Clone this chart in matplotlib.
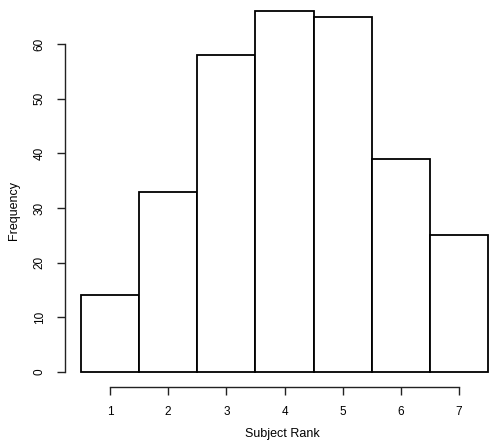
import matplotlib
matplotlib.use("Agg")
import matplotlib.pyplot as plt

# histogram counts
ranks = [1, 2, 3, 4, 5, 6, 7]
counts = [14, 33, 58, 66, 65, 39, 25]
yticks = [0, 10, 20, 30, 40, 50, 60]

plt.rcParams['font.family'] = ['Liberation Sans', 'DejaVu Sans']

W, H = 492, 442
fig = plt.figure(figsize=(W / 100, H / 100), dpi=100)

# axes placed in pixel terms, limits matched to the reference scale
px_per_x = 58.17
px_per_y = 5.467
left_px, right_px, top_px, bot_px = 60, 492, 5, 405
ax = fig.add_axes([left_px / W, 1 - bot_px / H, (right_px - left_px) / W, (bot_px - top_px) / H])
ax.set_xlim(1 + (left_px - 110) / px_per_x, 1 + (right_px - 110) / px_per_x)
ax.set_ylim(-(bot_px - 372) / px_per_y, (372 - top_px) / px_per_y)

ax.bar(ranks, counts, width=1.0, color='white', edgecolor='black', linewidth=1.3)

for s in ['top', 'right']:
    ax.spines[s].set_visible(False)
ax.spines['left'].set_position(('data', 1 + (65 - 110) / px_per_x))
ax.spines['left'].set_bounds(0, 60)
ax.spines['bottom'].set_position(('data', -(387 - 372) / px_per_y))
ax.spines['bottom'].set_bounds(1, 7)
for s in ['left', 'bottom']:
    ax.spines[s].set_linewidth(1.0)
    ax.spines[s].set_color('#222222')

ax.set_xticks(ranks)
ax.set_yticks(yticks)
ax.tick_params(axis='both', length=6, width=1.0, color='#222222', labelsize=8.5, pad=8)
for lbl in ax.get_yticklabels():
    lbl.set_rotation(90)
    lbl.set_va('center')

fig.text(14 / W, 1 - 210 / H, 'Frequency', rotation=90, ha='center', va='center', fontsize=9)
# x label kept right at the bottom edge
fig.text(282 / W, 1 - 440 / H, 'Subject Rank', ha='center', va='bottom', fontsize=9)

fig.savefig('out.png', dpi=100)
